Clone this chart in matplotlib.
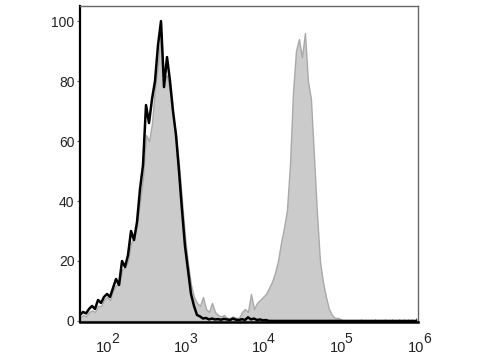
import numpy as np
import matplotlib
matplotlib.use("Agg")
import matplotlib.pyplot as plt
from matplotlib.ticker import LogLocator, NullFormatter, FixedLocator

plt.rcParams['font.family'] = ['Liberation Sans', 'DejaVu Sans']

# channel grid (log10 of fluorescence), 113 channels from ~10^1.69 to ~10^6
log_lo, log_hi = 1.6923, 6.0
n_chan = 113

# black outline: control
black_vals = [
    2, 3, 2.5, 4, 5, 4, 7, 6, 8, 9, 8, 11, 14, 12, 20, 18, 22, 30, 27, 33,
    44, 52, 72, 66, 74, 80, 92, 100, 78, 88, 80, 70, 62, 50, 37, 25, 17, 9, 5, 2,
    1.5, 0.8, 1, 0.5, 0.8, 0.5, 0.6, 0.4, 0.7, 0.5, 0.3, 0.8, 0.4, 0.3, 0.6, 0.3,
    1.2, 0.5, 0.8, 0.3, 0.5, 0.2, 0.3,
] + [0] * 50

# gray filled: stained sample (negative + positive population)
gray_vals = [
    1, 2, 1.5, 3, 3.5, 3, 5, 5, 7, 8, 7, 10, 12, 12, 17, 18, 20, 26, 28, 32,
    40, 48, 62, 60, 66, 78, 86, 97, 80, 82, 76, 68, 62, 52, 40, 28, 19, 12, 8, 6,
    5, 8, 4, 3, 6, 3, 2, 1.5, 2, 1, 1, 1.5, 1, 1,
    3, 4, 3, 9, 4, 6, 7, 8, 9, 11, 13, 16, 20, 26, 31, 37, 52, 76, 90, 94,
    88, 96, 80, 74, 55, 36, 20, 13, 8, 4, 2, 1, 1, 0.5,
] + [0] * 25

yticks = [0, 20, 40, 60, 80, 100]
xdecades = [2, 3, 4, 5, 6]

x = np.logspace(log_lo, log_hi, n_chan)

fig = plt.figure(figsize=(4.8, 3.6), dpi=100)
ax = fig.add_axes([0.1667, 0.106, 0.704, 0.877])

ax.fill_between(x, gray_vals, 0, color='#cbcbcb', edgecolor='#a9a9a9', lw=1.0, zorder=2)
ax.plot(x, black_vals, color='black', lw=1.8, zorder=3)

ax.set_xscale('log')
ax.set_xlim(10 ** 1.692, 10 ** 6.026)
ax.set_ylim(-0.3, 105)

ax.set_yticks(yticks)
ax.set_yticklabels([str(v) for v in yticks], fontsize=10, color='#222222')
ax.tick_params(axis='y', direction='out', length=2, width=0.8, pad=2, color='#555555')

ax.xaxis.set_major_locator(FixedLocator([10 ** d for d in xdecades]))
ax.xaxis.set_minor_locator(LogLocator(base=10, subs=np.arange(2, 10), numticks=20))
ax.xaxis.set_minor_formatter(NullFormatter())
ax.set_xticklabels(['10'] * len(xdecades), fontsize=10.5, color='#222222')
ax.tick_params(axis='x', which='major', direction='in', length=3, width=0.8, pad=14, color='#555555')
ax.tick_params(axis='x', which='minor', direction='in', length=2, width=0.6, color='#777777')

# exponents, drawn beside the "10"
for d in xdecades:
    ax.annotate(str(d), xy=(10 ** d, 0), xycoords=('data', 'axes fraction'),
                xytext=(5, -17.5), textcoords='offset points', fontsize=10,
                color='#222222', ha='left', va='bottom')

for side in ['top', 'right']:
    ax.spines[side].set_color('#666666')
    ax.spines[side].set_linewidth(1.0)
ax.spines['left'].set_color('black')
ax.spines['left'].set_linewidth(1.6)
ax.spines['bottom'].set_color('black')
ax.spines['bottom'].set_linewidth(1.8)

fig.savefig('out.png', dpi=100)
